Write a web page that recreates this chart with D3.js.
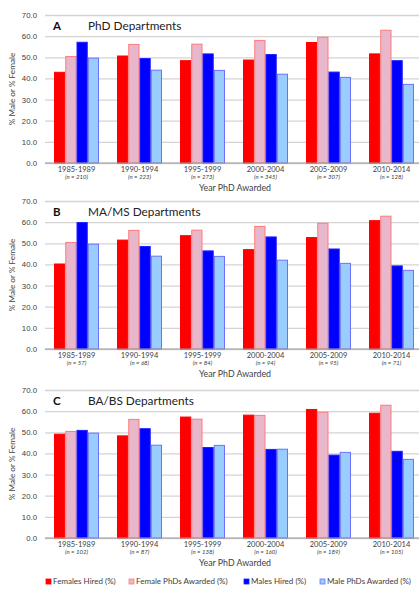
<!DOCTYPE html>
<html>
<head>
<meta charset="utf-8">
<script src="https://cdn.jsdelivr.net/npm/d3@7"></script>
<style>
  body { margin: 0; background: #fff; }
  svg { display: block; font-family: Lato, "Open Sans", sans-serif; }
</style>
</head>
<body>
<svg id="chart" width="419" height="589"></svg>
<script>
// ---- data ----
var periods = ['1985-1989', '1990-1994', '1995-1999', '2000-2004', '2005-2009', '2010-2014'];
var seriesNames = ['Females Hired (%)', 'Female PhDs Awarded (%)', 'Males Hired (%)', 'Male PhDs Awarded (%)'];
var yTicks = [0, 10, 20, 30, 40, 50, 60, 70];

// national PhDs awarded, same in every panel
var femalePhDs = [50.4, 56.1, 56.2, 58.0, 59.5, 62.8];
var malePhDs   = [49.6, 43.9, 43.8, 42.0, 40.5, 37.2];

var phdFemHired = [42.9, 50.6, 48.4, 48.7, 57.0, 51.6];
var phdMaleHired = [57.1, 49.4, 51.6, 51.3, 43.0, 48.4];
var phdN = [210, 223, 273, 345, 307, 128];

var msFemHired = [40.2, 51.5, 53.6, 47.0, 52.7, 60.7];
var msMaleHired = [59.8, 48.5, 46.4, 53.0, 47.3, 39.3];
var msN = [57, 68, 84, 94, 95, 71];

var baFemHired = [49.1, 48.3, 57.2, 58.1, 60.8, 59.0];
var baMaleHired = [50.9, 51.7, 42.8, 41.9, 39.2, 41.0];
var baN = [102, 87, 138, 160, 189, 105];

var panels = [
  { letter: 'A', title: 'PhD Departments',   top: 15,  fem: phdFemHired, male: phdMaleHired, n: phdN },
  { letter: 'B', title: 'MA/MS Departments', top: 201, fem: msFemHired,  male: msMaleHired,  n: msN },
  { letter: 'C', title: 'BA/BS Departments', top: 390, fem: baFemHired,  male: baMaleHired,  n: baN }
];

// ---- look ----
var fills   = ['#ff0000', '#e8b7cc', '#0000ff', '#99ccff'];
var strokes = ['#ff0000', '#ff7a7a', '#2020ff', '#6f6fff'];
var textCol = '#404040';

var plotLeft = 45, plotWidth = 378, plotHeight = 148;

var svg = d3.select('#chart');

var x0 = d3.scaleBand()
    .domain(periods)
    .range([plotLeft, plotLeft + plotWidth])
    .paddingInner(0.286)
    .paddingOuter(0.143);

var x1 = d3.scaleBand()
    .domain(seriesNames)
    .range([0, x0.bandwidth()]);

var y = d3.scaleLinear().domain([0, 70]).range([plotHeight, 0]);

//-------------------------------------------------------------------------------

function DrawPanel(p) {
    var g = svg.append('g').attr('transform', `translate(0,${p.top})`);

    // gridlines + tick labels
    var yAxis = d3.axisLeft(y).tickValues(yTicks).tickFormat(d3.format('.1f'))
        .tickSize(-(plotWidth)).tickPadding(8);
    var ga = g.append('g').attr('transform', `translate(${plotLeft},0)`).call(yAxis);
    ga.select('.domain').remove();
    ga.selectAll('.tick line').attr('stroke', '#d4d4d4').attr('stroke-width', 1.3);
    ga.selectAll('.tick text').attr('fill', textCol).attr('font-size', 7.8);

    // bars: one row per period
    var rows = periods.map((per, i) => ({
        period: per,
        vals: [p.fem[i], femalePhDs[i], p.male[i], malePhDs[i]]
    }));

    g.append('g').selectAll('g')
        .data(rows)
        .join('g')
        .attr('transform', d => `translate(${x0(d.period)},0)`)
        .selectAll('rect')
        .data(d => d.vals.map((v, k) => ({ k: k, v: v })))
        .join('rect')
        .attr('x', d => x1(seriesNames[d.k]) + 0.5)
        .attr('width', x1.bandwidth() - 1)
        .attr('y', d => y(d.v))
        .attr('height', d => y(0) - y(d.v))
        .attr('fill', d => fills[d.k])
        .attr('stroke', d => strokes[d.k])
        .attr('stroke-width', 1);

    // baseline
    g.append('line')
        .attr('x1', plotLeft).attr('x2', plotLeft + plotWidth)
        .attr('y1', y(0)).attr('y2', y(0))
        .attr('stroke', '#9a9a9a').attr('stroke-width', 1);

    // category labels with n
    var xl = g.append('g').selectAll('g')
        .data(periods)
        .join('g')
        .attr('transform', (d) => `translate(${x0(d) + x0.bandwidth() / 2},${plotHeight})`);
    xl.append('text')
        .attr('y', 9).attr('text-anchor', 'middle')
        .attr('font-size', 7.5).attr('fill', textCol)
        .text(d => d);
    xl.append('text')
        .attr('y', 16).attr('text-anchor', 'middle')
        .attr('font-size', 6).attr('font-style', 'italic').attr('fill', textCol)
        .text((d, i) => `(n = ${p.n[i]})`);

    g.append('text')
        .attr('x', plotLeft + plotWidth / 2 + 1).attr('y', plotHeight + 28)
        .attr('text-anchor', 'middle').attr('font-size', 8.8).attr('fill', textCol)
        .text('Year PhD Awarded');

    // y title
    g.append('text')
        .attr('transform', `translate(15,${plotHeight / 2}) rotate(-90)`)
        .attr('text-anchor', 'middle').attr('font-size', 8.2).attr('fill', textCol)
        .text('% Male or % Female');

    // panel heading
    g.append('text')
        .attr('x', 53).attr('y', 15)
        .attr('font-size', 11.5).attr('font-weight', 'bold').attr('fill', '#111')
        .text(p.letter);
    g.append('text')
        .attr('x', 88).attr('y', 15)
        .attr('font-size', 11.8).attr('fill', '#222')
        .text(p.title);
}

panels.forEach(DrawPanel);

//-------------------------------------------------------------------------------
// legend along the bottom

var legendX = [46, 129, 244, 320];
var lg = svg.append('g').attr('transform', 'translate(0,584)')
    .selectAll('g')
    .data(seriesNames)
    .join('g')
    .attr('transform', (d, i) => `translate(${legendX[i]},0)`);
lg.append('rect')
    .attr('x', 0).attr('y', -5).attr('width', 5).attr('height', 5)
    .attr('fill', (d, i) => fills[i]).attr('stroke', (d, i) => strokes[i]).attr('stroke-width', 0.8);
lg.append('text')
    .attr('x', 7).attr('y', 0)
    .attr('font-size', 8).attr('fill', textCol)
    .text(d => d);
</script>
</body>
</html>
